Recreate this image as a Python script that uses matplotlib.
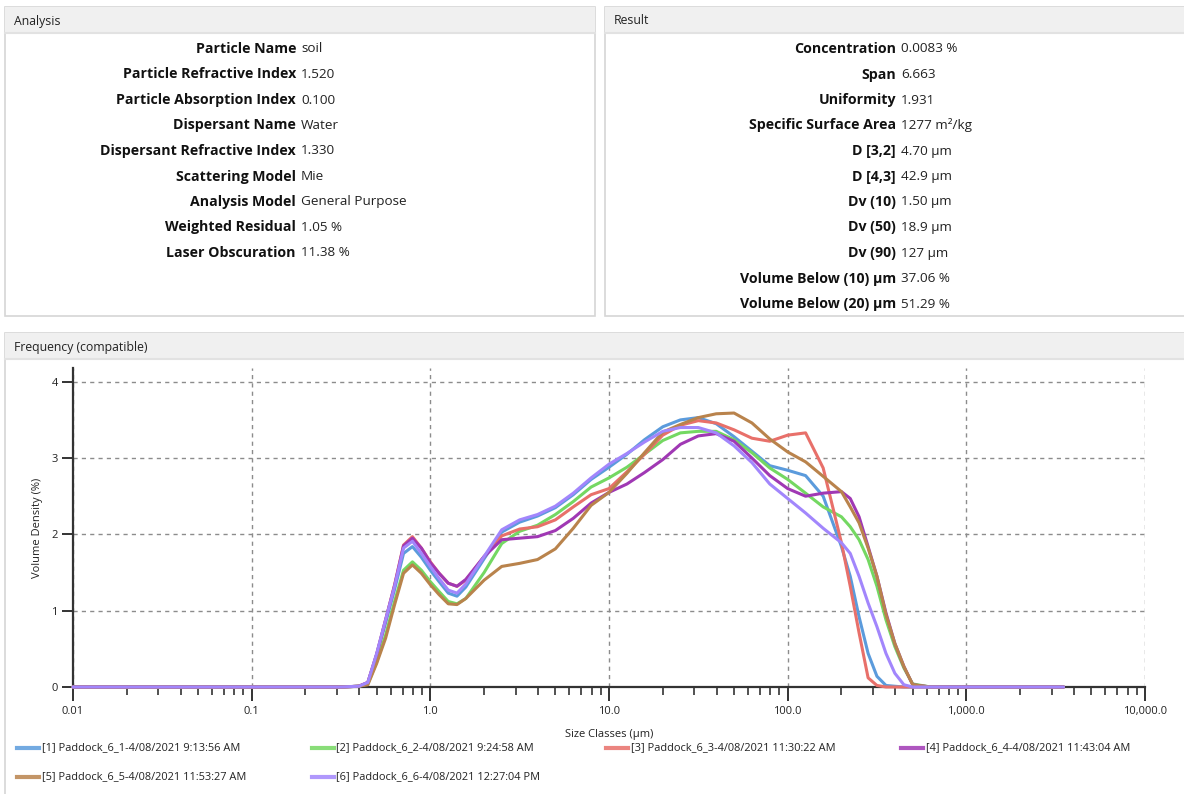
import matplotlib
matplotlib.use('Agg')
import matplotlib.pyplot as plt
from matplotlib.patches import Rectangle
from matplotlib.lines import Line2D
from matplotlib.ticker import FixedLocator, LogLocator, NullFormatter


# ─────────────────────────────────────────────
# Data
# ─────────────────────────────────────────────

ANALYSIS_LABELS = ['Particle Name', 'Particle Refractive Index', 'Particle Absorption Index',
                   'Dispersant Name', 'Dispersant Refractive Index', 'Scattering Model',
                   'Analysis Model', 'Weighted Residual', 'Laser Obscuration']
ANALYSIS_VALUES = ['soil', '1.520', '0.100', 'Water', '1.330', 'Mie',
                   'General Purpose', '1.05 %', '11.38 %']

RESULT_LABELS = ['Concentration', 'Span', 'Uniformity', 'Specific Surface Area',
                 'D [3,2]', 'D [4,3]', 'Dv (10)', 'Dv (50)', 'Dv (90)',
                 'Volume Below (10) µm', 'Volume Below (20) µm']
RESULT_VALUES = ['0.0083 %', '6.663', '1.931', '1277 m²/kg', '4.70 µm', '42.9 µm',
                 '1.50 µm', '18.9 µm', '127 µm', '37.06 %', '51.29 %']

# size classes (µm)
SIZES = [0.01, 0.316, 0.398, 0.447, 0.501, 0.562, 0.631, 0.708, 0.794, 0.891,
         1.0, 1.12, 1.26, 1.41, 1.58, 2.0, 2.51, 3.16, 3.98, 5.01,
         6.31, 7.94, 10.0, 12.6, 15.8, 20.0, 25.1, 31.6, 39.8, 50.1,
         63.1, 79.4, 100.0, 126, 158, 200, 224, 251, 282, 316,
         355, 398, 447, 501, 631, 3500]

# volume density (%)
PADDOCK_6_1 = [0, 0, 0.01, 0.05, 0.42, 0.84, 1.28, 1.75, 1.84, 1.70,
               1.53, 1.38, 1.23, 1.19, 1.31, 1.68, 2.03, 2.16, 2.24, 2.35,
               2.52, 2.72, 2.88, 3.05, 3.24, 3.41, 3.50, 3.53, 3.45, 3.28,
               3.09, 2.90, 2.84, 2.77, 2.50, 1.84, 1.45, 0.92, 0.44, 0.14,
               0.02, 0.01, 0, 0, 0, 0]
PADDOCK_6_2 = [0, 0, 0.01, 0.04, 0.33, 0.68, 1.12, 1.53, 1.64, 1.53,
               1.38, 1.25, 1.12, 1.09, 1.16, 1.50, 1.88, 2.04, 2.12, 2.26,
               2.43, 2.62, 2.74, 2.88, 3.05, 3.23, 3.33, 3.35, 3.35, 3.24,
               3.07, 2.87, 2.72, 2.54, 2.36, 2.23, 2.10, 1.93, 1.67, 1.32,
               0.88, 0.53, 0.25, 0.04, 0, 0]
PADDOCK_6_3 = [0, 0, 0.01, 0.06, 0.43, 0.88, 1.34, 1.86, 1.97, 1.82,
               1.64, 1.49, 1.36, 1.32, 1.40, 1.71, 1.98, 2.07, 2.10, 2.19,
               2.36, 2.52, 2.60, 2.82, 3.05, 3.30, 3.43, 3.49, 3.46, 3.37,
               3.26, 3.22, 3.30, 3.33, 2.87, 1.89, 1.32, 0.71, 0.12, 0.02,
               0, 0, 0, 0, 0, 0]
PADDOCK_6_4 = [0, 0, 0.01, 0.06, 0.43, 0.88, 1.33, 1.85, 1.95, 1.82,
               1.63, 1.49, 1.36, 1.32, 1.41, 1.71, 1.93, 1.95, 1.97, 2.05,
               2.21, 2.41, 2.55, 2.66, 2.81, 2.98, 3.18, 3.29, 3.32, 3.22,
               3.00, 2.77, 2.60, 2.50, 2.54, 2.56, 2.47, 2.23, 1.84, 1.45,
               0.97, 0.57, 0.27, 0.03, 0, 0]
PADDOCK_6_5 = [0, 0, 0.01, 0.03, 0.31, 0.64, 1.08, 1.49, 1.60, 1.49,
               1.34, 1.21, 1.09, 1.08, 1.16, 1.40, 1.58, 1.62, 1.67, 1.81,
               2.08, 2.38, 2.55, 2.80, 3.07, 3.34, 3.44, 3.53, 3.58, 3.59,
               3.46, 3.25, 3.08, 2.95, 2.76, 2.56, 2.36, 2.15, 1.82, 1.45,
               0.95, 0.57, 0.27, 0.03, 0, 0]
PADDOCK_6_6 = [0, 0, 0.01, 0.06, 0.44, 0.88, 1.32, 1.82, 1.91, 1.75,
               1.58, 1.42, 1.27, 1.23, 1.35, 1.71, 2.06, 2.19, 2.26, 2.37,
               2.54, 2.74, 2.92, 3.06, 3.21, 3.35, 3.40, 3.40, 3.33, 3.16,
               2.94, 2.66, 2.47, 2.28, 2.08, 1.89, 1.75, 1.45, 1.10, 0.79,
               0.44, 0.18, 0.03, 0, 0, 0]

SERIES_NAMES = ['[1] Paddock_6_1-4/08/2021 9:13:56 AM',
                '[2] Paddock_6_2-4/08/2021 9:24:58 AM',
                '[3] Paddock_6_3-4/08/2021 11:30:22 AM',
                '[4] Paddock_6_4-4/08/2021 11:43:04 AM',
                '[5] Paddock_6_5-4/08/2021 11:53:27 AM',
                '[6] Paddock_6_6-4/08/2021 12:27:04 PM']
SERIES = [PADDOCK_6_1, PADDOCK_6_2, PADDOCK_6_3, PADDOCK_6_4, PADDOCK_6_5, PADDOCK_6_6]
COLORS = ['#5b9bdc', '#74d862', '#e8706a', '#a038b4', '#b9834c', '#a286fc']

X_TICKS = [0.01, 0.1, 1.0, 10.0, 100.0, 1000.0, 10000.0]
X_TICK_LABELS = ['0.01', '0.1', '1.0', '10.0', '100.0', '1,000.0', '10,000.0']
Y_TICKS = [0, 1, 2, 3, 4]

# ─────────────────────────────────────────────
# Layout helpers (pixel coords, origin top-left)
# ─────────────────────────────────────────────

W, H = 1184, 794
plt.rcParams['font.family'] = ['Open Sans', 'DejaVu Sans']

fig = plt.figure(figsize=(W / 100, H / 100), dpi=100)
fig.patch.set_facecolor('white')


def fx(x):
    return x / W


def fy(y):
    return 1 - y / H


def panel(x0, y0, x1, y1, title):
    fig.patches.append(Rectangle((fx(x0), fy(y1)), (x1 - x0) / W, (y1 - y0) / H,
                                 transform=fig.transFigure, facecolor='white',
                                 edgecolor='#d6d6d6', lw=1.2, zorder=-10))
    fig.patches.append(Rectangle((fx(x0), fy(y0 + 26)), (x1 - x0) / W, 26 / H,
                                 transform=fig.transFigure, facecolor='#f0f0f0',
                                 edgecolor='none', zorder=-9))
    fig.lines.append(Line2D([fx(x0), fx(x1)], [fy(y0 + 26), fy(y0 + 26)],
                            transform=fig.transFigure, color='#e2e2e2', lw=1.5, zorder=-8))
    fig.text(fx(x0 + 9), fy(y0 + 14), title, fontsize=8.8, color='#222222',
             va='center', ha='left')


def info_rows(x_split, y_start, labels, values):
    for i, (lab, val) in enumerate(zip(labels, values)):
        y = fy(y_start + i * 25.5)
        fig.text(fx(x_split - 2), y, lab, fontsize=10.2, fontweight='bold',
                 color='#111111', ha='right', va='center')
        fig.text(fx(x_split + 3), y, val, fontsize=9.7, color='#222222',
                 ha='left', va='center')


# ─────────────────────────────────────────────
# Panels
# ─────────────────────────────────────────────

panel(5, 7, 595, 316, 'Analysis')
panel(605, 7, 1190, 316, 'Result')
panel(5, 333, 1190, 800, 'Frequency (compatible)')

info_rows(298, 49, ANALYSIS_LABELS, ANALYSIS_VALUES)
info_rows(898, 49, RESULT_LABELS, RESULT_VALUES)

# ─────────────────────────────────────────────
# Frequency chart
# ─────────────────────────────────────────────

ax = fig.add_axes([fx(73), fy(687), (1145 - 73) / W, (687 - 368) / H])
ax.set_facecolor('white')

for vals, color in zip(SERIES, COLORS):
    ax.plot(SIZES, vals, color=color, lw=2.2, solid_joinstyle='round',
            solid_capstyle='round', clip_on=False, zorder=3)

ax.set_xscale('log')
ax.set_xlim(0.01, 10000)
ax.set_ylim(0, 4.18)

ax.xaxis.set_major_locator(FixedLocator(X_TICKS))
ax.set_xticklabels(X_TICK_LABELS)
ax.xaxis.set_minor_locator(LogLocator(base=10, subs=range(2, 10), numticks=20))
ax.xaxis.set_minor_formatter(NullFormatter())
ax.set_yticks(Y_TICKS)

ax.grid(True, which='major', linestyle=(0, (3, 3)), color='#8c8c8c', lw=1.0)

ax.tick_params(axis='x', which='major', length=10, width=1.4, color='#333333',
               labelsize=8, labelcolor='#222222', pad=4)
ax.tick_params(axis='x', which='minor', length=6, width=1.2, color='#333333')
ax.tick_params(axis='y', which='major', length=8, width=1.4, color='#333333',
               labelsize=8, labelcolor='#222222', pad=3)

for side in ('top', 'right'):
    ax.spines[side].set_visible(False)
for side in ('left', 'bottom'):
    ax.spines[side].set_color('#333333')
    ax.spines[side].set_linewidth(1.6)

ax.set_xlabel('Size Classes (µm)', fontsize=8, color='#222222', labelpad=8)
ax.set_ylabel('Volume Density (%)', fontsize=8, color='#222222', labelpad=6)

# ── legend, laid out in rows of four ──
for i, (name, color) in enumerate(zip(SERIES_NAMES, COLORS)):
    row, col = divmod(i, 4)
    x0 = 17 + col * 294.5
    y = fy(748 + row * 29)
    fig.lines.append(Line2D([fx(x0), fx(x0 + 22)], [y, y], transform=fig.transFigure,
                            color=color, lw=3, alpha=0.85))
    fig.text(fx(x0 + 25), y, name, fontsize=7.9, color='#222222',
             ha='left', va='center')

fig.savefig('out.png', dpi=100, facecolor='white')
plt.close(fig)
